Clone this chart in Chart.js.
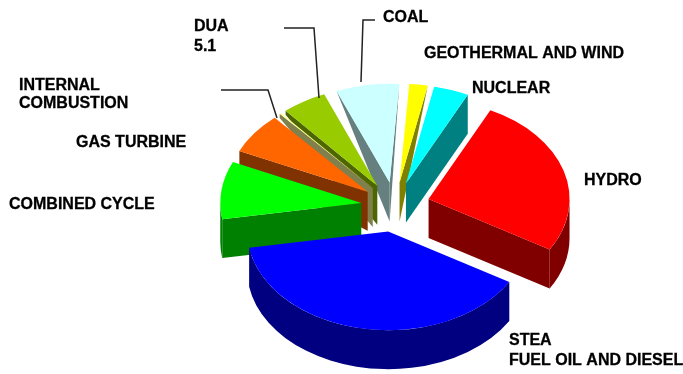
<!DOCTYPE html>
<html>
<head>
<meta charset="utf-8">
<script src="https://cdn.jsdelivr.net/npm/chart.js@4"></script>
<style>
  html, body { margin: 0; padding: 0; background: #fff; }
  #wrap { width: 683px; height: 374px; }
</style>
</head>
<body>
<div id="wrap"><canvas id="pie"></canvas></div>
<script>
// Generation shares in percent, clockwise starting from hydro
var categories = ['HYDRO', 'STEA', 'COMBINED CYCLE', 'GAS TURBINE', 'INTERNAL COMBUSTION', 'DUA', 'COAL', 'GEOTHERMAL AND WIND', 'NUCLEAR'];
var shares = [26.2, 38.6, 9.4, 6.7, 0.2, 5.1, 7.2, 2.1, 4.0];
var topColors = ['#ff0000', '#0000ff', '#00ff00', '#ff6600', '#ffff99', '#99cc00', '#ccffff', '#ffff00', '#00ffff'];
var sideColors = ['#800000', '#000080', '#008000', '#803300', '#80804d', '#4d6600', '#668080', '#808000', '#008080'];
var explodes = [35, 37, 34, 34, 34, 34, 34, 34, 34];   // px each slice is pulled out, before squash

var startDeg = 26;     // where hydro begins, degrees clockwise from 12 o'clock
var squash = 0.7;      // vertical foreshortening of the disc
var depth = 39;        // thickness of the disc in px

// text: [string, x, baseline y]
var labels = [
    ['COAL', 383, 22],
    ['GEOTHERMAL AND WIND', 424, 58],
    ['NUCLEAR', 472, 93],
    ['HYDRO', 584, 185],
    ['STEA', 509, 345],
    ['FUEL OIL AND DIESEL', 509, 365],
    ['COMBINED CYCLE', 9, 209],
    ['GAS TURBINE', 76, 147],
    ['INTERNAL', 19, 90],
    ['COMBUSTION', 19, 108],
    ['DUA', 194, 31],
    ['5.1', 194, 51]
];
var leaders = [
    [[284, 28], [314, 28], [319, 98]],
    [[221, 90], [268, 90], [277, 118]],
    [[375, 20], [363, 20], [361, 82]]
];

var TOP = -Math.PI / 2;

// How far the outer end of a radial wall hangs below the top face.
// Walls close to the back of the disc taper away to nothing.
function outerDrop(deg) {
    deg = (deg + 360) % 360;
    if (deg < 20) return 0;
    if (deg > 180) {
        var t = Math.max(0, Math.min(1, 1 - (deg - 260) / 78));
        return depth * Math.pow(t, 1.6);
    }
    return depth;
}

function drawSlice(ctx, arc, side, explode) {
    var p = arc.getProps(['x', 'y', 'startAngle', 'endAngle', 'outerRadius'], true);
    var mid = (p.startAngle + p.endAngle) / 2;
    var ax = p.x + Math.cos(mid) * explode;
    var ay = p.y + Math.sin(mid) * explode * squash;
    var R = p.outerRadius;

    function wall(a) {
        var cx = ax + Math.cos(a) * R;
        var cy = ay + Math.sin(a) * R * squash;
        ctx.beginPath();
        ctx.moveTo(ax, ay);
        ctx.lineTo(cx, cy);
        ctx.lineTo(cx, cy + outerDrop((a - TOP) * 180 / Math.PI));
        ctx.lineTo(ax, ay + depth);
        ctx.closePath();
        ctx.fill();
    }

    ctx.fillStyle = side;

    // rim, only the part that faces the viewer
    var a0 = Math.max(p.startAngle, 0);
    var a1 = Math.min(p.endAngle, Math.PI);
    if (a1 > a0) {
        ctx.beginPath();
        ctx.ellipse(ax, ay, R, R * squash, 0, a0, a1);
        ctx.ellipse(ax, ay + depth, R, R * squash, 0, a1, a0, true);
        ctx.closePath();
        ctx.fill();
    }

    // radial walls facing the viewer
    if (Math.sin(p.endAngle - TOP) > 0) wall(p.endAngle);
    if (Math.sin(p.startAngle - TOP) < 0) wall(p.startAngle);

    // top face, drawn by the arc element itself
    ctx.save();
    ctx.translate(p.x, p.y);
    ctx.scale(1, squash);
    ctx.translate(-p.x, -p.y);
    ctx.translate(Math.cos(mid) * explode, Math.sin(mid) * explode);
    arc.draw(ctx);
    ctx.restore();
}

var exploded3d = {
    id: 'exploded3d',
    beforeDatasetsDraw: function (chart) {
        var ctx = chart.ctx;
        var arcs = chart.getDatasetMeta(0).data.map(function (arc, i) {
            return { arc: arc, side: sideColors[i], explode: explodes[i] };
        });
        // back of the disc first, so nearer slices paint over it
        arcs.sort(function (a, b) {
            var ma = (a.arc.startAngle + a.arc.endAngle) / 2;
            var mb = (b.arc.startAngle + b.arc.endAngle) / 2;
            return Math.sin(ma) - Math.sin(mb);
        });
        arcs.forEach(function (o) { drawSlice(ctx, o.arc, o.side, o.explode); });
        return false;
    },
    afterDraw: function (chart) {
        var ctx = chart.ctx;
        ctx.save();
        ctx.strokeStyle = '#222';
        ctx.lineWidth = 1.5;
        leaders.forEach(function (pts) {
            ctx.beginPath();
            pts.forEach(function (pt, i) {
                if (i === 0) ctx.moveTo(pt[0], pt[1]); else ctx.lineTo(pt[0], pt[1]);
            });
            ctx.stroke();
        });
        ctx.fillStyle = '#000';
        ctx.strokeStyle = '#000';
        ctx.lineWidth = 0.3;
        ctx.font = 'bold 16px "Liberation Sans", Arial, sans-serif';
        ctx.textBaseline = 'alphabetic';
        labels.forEach(function (l) {
            ctx.fillText(l[0], l[1], l[2]);
            ctx.strokeText(l[0], l[1], l[2]);
        });
        ctx.restore();
    }
};

new Chart(document.getElementById('pie'), {
    type: 'pie',
    data: {
        labels: categories,
        datasets: [{
            data: shares,
            backgroundColor: topColors,
            borderWidth: 0
        }]
    },
    options: {
        responsive: true,
        maintainAspectRatio: false,
        animation: false,
        rotation: startDeg,
        layout: { padding: { left: 254, right: 147, top: 65, bottom: 27 } },
        plugins: { legend: { display: false }, tooltip: { enabled: false } }
    },
    plugins: [exploded3d]
});
</script>
</body>
</html>
